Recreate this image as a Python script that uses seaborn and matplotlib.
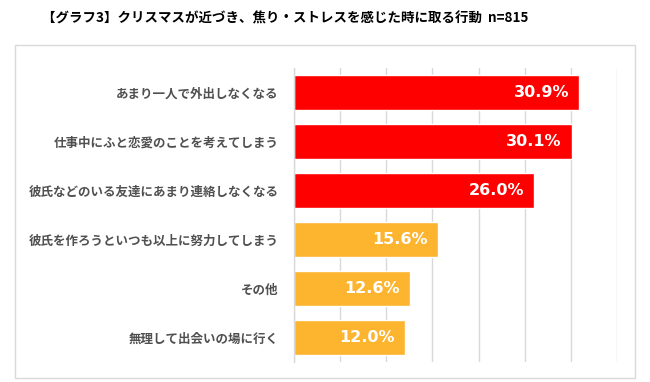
import matplotlib
matplotlib.use("Agg")
import matplotlib.pyplot as plt
import seaborn as sns
import pandas as pd
from matplotlib.patches import Rectangle

categories = [
    "あまり一人で外出しなくなる",
    "仕事中にふと恋愛のことを考えてしまう",
    "彼氏などのいる友達にあまり連絡しなくなる",
    "彼氏を作ろうといつも以上に努力してしまう",
    "その他",
    "無理して出会いの場に行く",
]
values = [30.9, 30.1, 26.0, 15.6, 12.6, 12.0]
bar_colors = ["#FF0000", "#FF0000", "#FF0000", "#FDB42F", "#FDB42F", "#FDB42F"]
title = "【グラフ3】クリスマスが近づき、焦り・ストレスを感じた時に取る行動  n=815"

sns.set_theme(style="white")
plt.rcParams['font.family'] = ['Noto Sans CJK JP', 'DejaVu Sans']

df = pd.DataFrame({"cat": categories, "val": values})

fig = plt.figure(figsize=(6.5, 3.82), dpi=100)
ax = fig.add_axes([294/650, 1-362/382, (617-294)/650, (362-68)/382])

sns.barplot(data=df, y="cat", x="val", hue="cat", palette=bar_colors,
            legend=False, ax=ax, width=0.71, saturation=1, orient="h")

ax.set_xlim(0, 35)
ax.set_ylim(5.5, -0.5)
ax.set_xticks([0, 5, 10, 15, 20, 25, 30, 35])
ax.set_xticklabels([])
ax.grid(axis="x", color="#D9D9D9", linewidth=1)
ax.set_axisbelow(True)
for s in ["top", "right", "bottom"]:
    ax.spines[s].set_visible(False)
ax.spines["left"].set_color("#D9D9D9")
ax.spines["left"].set_linewidth(1)
ax.set_xlabel("")
ax.set_ylabel("")
ax.tick_params(axis="y", length=0, pad=11, labelsize=9, labelcolor="#505050")
ax.tick_params(axis="x", length=0)
for lbl in ax.get_yticklabels():
    lbl.set_fontweight("bold")

for i, v in enumerate(values):
    ax.text(v - 1.1, i, f"{v:.1f}%", ha="right", va="center", color="white",
            fontsize=11.5, fontweight="bold", fontfamily="DejaVu Sans")

fig.text(42/650, 1-18/382, title, ha="left", va="center", fontsize=9.7,
         fontweight="bold", color="#000000")

fig.patches.append(Rectangle((15/650, 1-378/382), (635-15)/650, (378-45)/382,
                             transform=fig.transFigure, fill=False,
                             edgecolor="#D9D9D9", linewidth=1))

fig.savefig("out.png", dpi=100)
